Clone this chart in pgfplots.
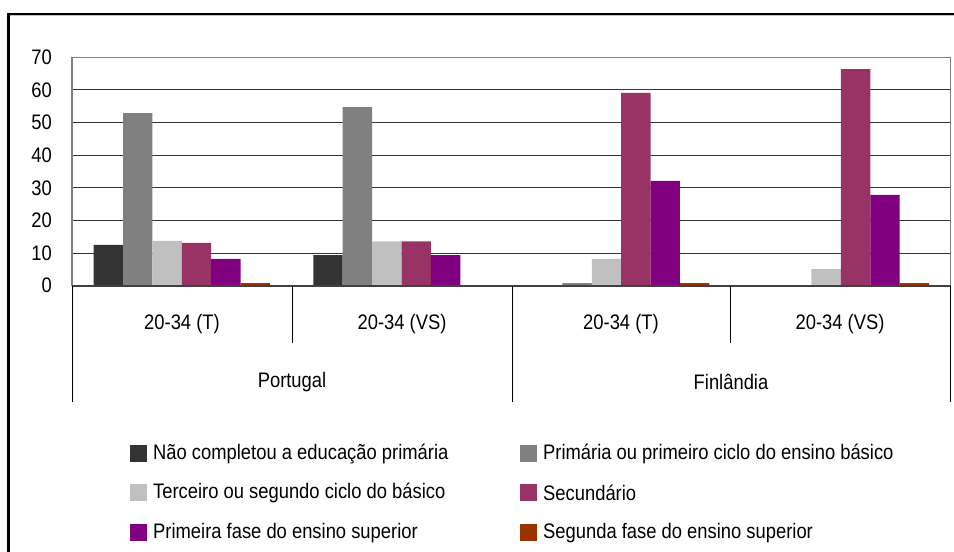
\documentclass[border=0pt]{standalone}
\usepackage{fontspec}
\setmainfont{Liberation Sans}[FakeStretch=0.875]
\usepackage{pgfplots}
\pgfplotsset{compat=1.18}

\definecolor{npri}{HTML}{333333}
\definecolor{prim}{HTML}{808080}
\definecolor{terc}{HTML}{C0C0C0}
\definecolor{secu}{HTML}{993366}
\definecolor{sup1}{HTML}{800080}
\definecolor{sup2}{HTML}{993300}

\begin{document}
\begin{tikzpicture}[font=\fontsize{21}{25}\selectfont]
\useasboundingbox (0,0) rectangle (954pt,552pt);
\clip (0,0) rectangle (954pt,552pt);

% outer frame (cut by the page on the right and bottom)
\draw[line width=2.7pt] (8.7pt,-10pt) -- (8.7pt,538pt) -- (970pt,538pt);
\draw[terc, line width=1pt] (10pt,536pt) -- (970pt,536pt);

\begin{axis}[
    at={(72pt,266.3pt)}, anchor=south west,
    scale only axis, width=878.7pt, height=228.4pt,
    xmin=-0.5, xmax=3.5, ymin=0, ymax=70,
    ybar=0pt, bar width=29.4pt,
    xtick=\empty,
    ytick={0,10,...,70},
    major tick length=0pt,
    yticklabel style={anchor=east, inner sep=0pt, xshift=-20pt},
    /pgf/number format/assume math mode=true,
    ymajorgrids,
    major grid style={draw=black!80, line width=0.9pt},
    axis line style={draw=none},
    clip=false,
    ]
    % Nao completou a educacao primaria
    \addplot[fill=npri, draw=none] coordinates {(0,12.5) (1,9.4) (2,0) (3,0)};
    % Primaria ou primeiro ciclo do ensino basico
    \addplot[fill=prim, draw=none] coordinates {(0,52.9) (1,54.7) (2,0.8) (3,0)};
    % Terceiro ou segundo ciclo do basico
    \addplot[fill=terc, draw=none] coordinates {(0,13.7) (1,13.6) (2,8.2) (3,5.1)};
    % Secundario
    \addplot[fill=secu, draw=none] coordinates {(0,13.1) (1,13.6) (2,59.1) (3,66.4)};
    % Primeira fase do ensino superior
    \addplot[fill=sup1, draw=none] coordinates {(0,8.2) (1,9.4) (2,32.1) (3,27.8)};
    % Segunda fase do ensino superior
    \addplot[fill=sup2, draw=none] coordinates {(0,0.8) (1,0) (2,0.8) (3,0.8)};
\end{axis}

% plot area border
\draw[prim, line width=1.5pt] (72pt,266.3pt) -- (72pt,494.7pt) -- (950.7pt,494.7pt) -- (950.7pt,266.3pt);
\draw[black!75, line width=2pt] (72pt,266.3pt) -- (950.7pt,266.3pt);

% category axis: separators and labels
\draw[black, line width=1pt] (292pt,266.3pt) -- (292pt,209pt);
\draw[black, line width=1pt] (730pt,266.3pt) -- (730pt,209pt);
\draw[black, line width=1pt] (72pt,266.3pt) -- (72pt,150pt);
\draw[black, line width=1pt] (512pt,266.3pt) -- (512pt,150pt);
\draw[black, line width=1pt] (950.7pt,266.3pt) -- (950.7pt,150pt);

\node at (182pt,228pt) {20-34 (T)};
\node at (402pt,228pt) {20-34 (VS)};
\node at (621pt,228pt) {20-34 (T)};
\node at (840pt,228pt) {20-34 (VS)};
\node at (292pt,170pt) {Portugal};
\node at (731pt,170pt) {Finlândia};

% legend
\fill[npri] (130pt,89.5pt) rectangle ++(17pt,17pt);
\node[anchor=west, inner sep=0pt] at (153pt,98pt) {Não completou a educação primária};
\fill[terc] (130pt,50.5pt) rectangle ++(17pt,17pt);
\node[anchor=west, inner sep=0pt] at (153pt,59pt) {Terceiro ou segundo ciclo do básico};
\fill[sup1] (130pt,10.5pt) rectangle ++(17pt,17pt);
\node[anchor=west, inner sep=0pt] at (153pt,19pt) {Primeira fase do ensino superior};
\fill[prim] (520pt,89.5pt) rectangle ++(17pt,17pt);
\node[anchor=west, inner sep=0pt] at (543pt,98pt) {Primária ou primeiro ciclo do ensino básico};
\fill[secu] (520pt,50.5pt) rectangle ++(17pt,17pt);
\node[anchor=west, inner sep=0pt] at (543pt,59pt) {Secundário};
\fill[sup2] (520pt,10.5pt) rectangle ++(17pt,17pt);
\node[anchor=west, inner sep=0pt] at (543pt,19pt) {Segunda fase do ensino superior};
\end{tikzpicture}
\end{document}
